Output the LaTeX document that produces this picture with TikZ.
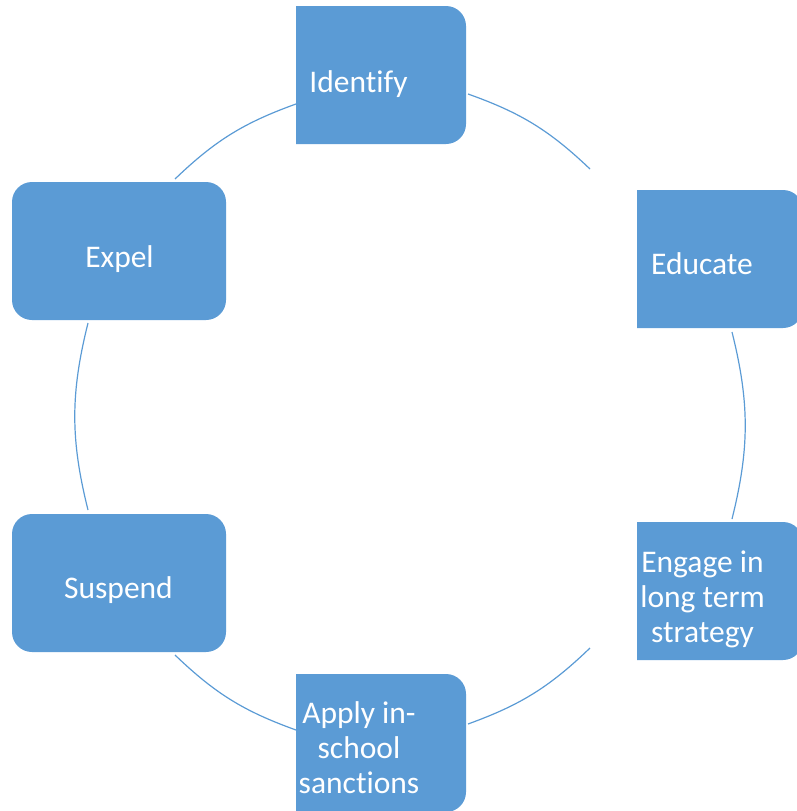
\documentclass[tikz,border=0pt]{standalone}
\usepackage{fontspec}
\setmainfont{Carlito}[Ligatures=NoCommon]
\definecolor{boxblue}{HTML}{5B9BD5}
\begin{document}
\begin{tikzpicture}[x=1pt,y=-1pt,
  stagebox/.style={fill=boxblue},
  stagetext/.style={text=white,inner sep=0pt,anchor=base,
    font=\fontsize{31.5}{35}\selectfont},
  cyclearc/.style={draw=boxblue,line width=1.2pt},
]
\useasboundingbox (0,0) rectangle (797,811);
\clip (0,0) rectangle (797,811);

% stage boxes
\fill[stagebox] (296,6) [rounded corners=20pt] -- (466,6) -- (466,144) [sharp corners] -- (296,144) -- cycle;
\fill[stagebox] (637,190) [rounded corners=20pt] -- (803,190) -- (803,328) [sharp corners] -- (637,328) -- cycle;
\fill[stagebox] (637,522) [rounded corners=20pt] -- (803,522) -- (803,660) [sharp corners] -- (637,660) -- cycle;
\fill[stagebox] (296,674) [rounded corners=20pt] -- (466,674) -- (466,812) [sharp corners] -- (296,812) -- cycle;
\fill[stagebox,rounded corners=20pt] (12,514) rectangle (226,652);
\fill[stagebox,rounded corners=20pt] (12,182) rectangle (226,320);

% stage labels (f-i and t-i kept as separate letters)
\node[stagetext] (identify) at (358.5,92) {Identif{}y};
\node[stagetext] (educate) at (702,274) {Educate};
\node[stagetext] (engage) at (702.5,572) {\begin{tabular}[t]{@{}c@{}}Engage in\\long term\\strategy\end{tabular}};
\node[stagetext] (apply) at (359,723) {\begin{tabular}[t]{@{}c@{}}Apply in-\\school\\sanct{}ions\end{tabular}};
\node[stagetext] (suspend) at (118.5,598) {Suspend};
\node[stagetext] (expel) at (119.5,267) {Expel};

% ends of the connecting arcs
\coordinate (idR) at (468,94);
\coordinate (edT) at (590,169);
\coordinate (edB) at (732,332);
\coordinate (enT) at (732,519);
\coordinate (enB) at (590,648);
\coordinate (apR) at (468,724);
\coordinate (apL) at (296,730);
\coordinate (suB) at (175,655);
\coordinate (suT) at (88,510);
\coordinate (exB) at (88,323);
\coordinate (exT) at (175,179);
\coordinate (idL) at (296,104);

% cycle arcs, clockwise
\draw[cyclearc] (idR) to[bend left=12] (edT);
\draw[cyclearc] (edB) to[bend left=14] (enT);
\draw[cyclearc] (enB) to[bend left=12] (apR);
\draw[cyclearc] (apL) to[bend left=12] (suB);
\draw[cyclearc] (suT) to[bend left=14] (exB);
\draw[cyclearc] (exT) to[bend left=12] (idL);
\end{tikzpicture}
\end{document}
